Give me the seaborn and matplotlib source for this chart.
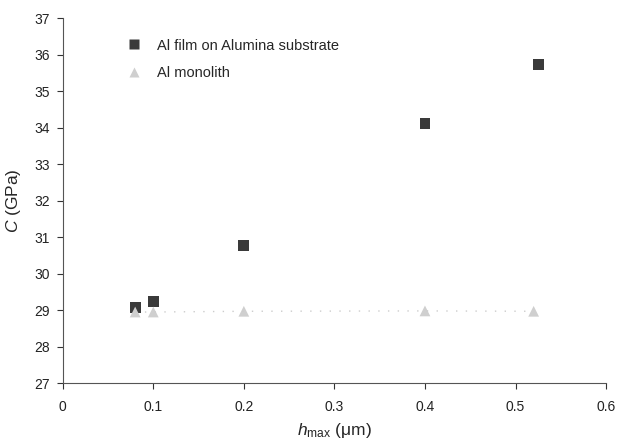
import pandas as pd
import seaborn as sns
import matplotlib.pyplot as plt

# Dados
hmax_filme = [0.08, 0.10, 0.20, 0.40, 0.525]
c_filme = [29.07, 29.24, 30.77, 34.11, 35.74]
hmax_mono = [0.08, 0.10, 0.20, 0.40, 0.52]
c_mono = [28.95, 28.95, 28.97, 28.98, 28.97]

df = pd.DataFrame({
    'hmax': hmax_filme + hmax_mono,
    'C': c_filme + c_mono,
    'serie': ['Al film on Alumina substrate'] * len(hmax_filme) + ['Al monolith'] * len(hmax_mono),
})

sns.set_style('ticks')
plt.rcParams['font.family'] = ['Liberation Sans', 'DejaVu Sans']
plt.rcParams['mathtext.fontset'] = 'custom'
plt.rcParams['mathtext.it'] = 'Liberation Sans:italic'
plt.rcParams['mathtext.rm'] = 'Liberation Sans'

fig = plt.figure(figsize=(6.21, 4.43), dpi=100)
ax = fig.add_axes([0.101, 0.135, 0.875, 0.824])

sns.scatterplot(data=df, x='hmax', y='C', hue='serie', style='serie',
                palette={'Al film on Alumina substrate': '#3a3a3a', 'Al monolith': '#cfcfcf'},
                markers={'Al film on Alumina substrate': 's', 'Al monolith': '^'},
                s=60, edgecolor='none', ax=ax)

# linha pontilhada fraca do monolito
ax.plot(hmax_mono, c_mono, linestyle=(0, (1, 6)), color='#cccccc', linewidth=1, zorder=1)

ax.set_xlim(0, 0.6)
ax.set_ylim(27, 37)
ax.set_xticks([0, 0.1, 0.2, 0.3, 0.4, 0.5, 0.6])
ax.set_xticklabels(['0', '0.1', '0.2', '0.3', '0.4', '0.5', '0.6'])
ax.set_yticks(range(27, 38))
ax.tick_params(labelsize=10, length=4, width=0.8, pad=5, colors='#333333', labelcolor='#222222')
ax.tick_params(axis='x', pad=8)
for lado in ['left', 'bottom']:
    ax.spines[lado].set_color('#555555')
    ax.spines[lado].set_linewidth(0.8)
sns.despine(ax=ax)

ax.set_xlabel(r'$\mathit{h}_{\mathrm{max}}$ (μm)', fontsize=12.5, labelpad=5)
ax.set_ylabel(r'$\mathit{C}$ (GPa)', fontsize=12.5, labelpad=8)

leg = ax.legend(loc='upper left', bbox_to_anchor=(0.08, 0.98), frameon=False,
                fontsize=10.5, handletextpad=0.6, labelspacing=0.9, markerscale=1.0)

fig.savefig('out.png', dpi=100)
